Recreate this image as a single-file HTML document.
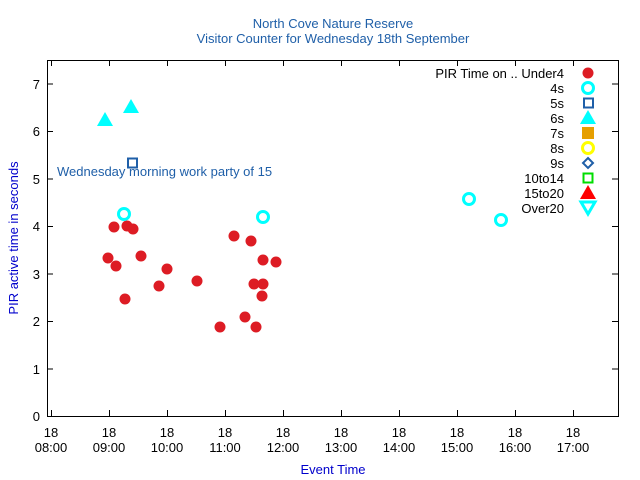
<!DOCTYPE html>
<html><head><meta charset="utf-8"><style>body{margin:0;background:#fff}svg{display:block}text{font-family:"Liberation Sans",sans-serif}</style></head><body>
<svg width="640" height="480" viewBox="0 0 640 480">
<rect width="640" height="480" fill="#fff"/>
<text x="333" y="28" font-size="13" fill="#1f5fa8" text-anchor="middle">North Cove Nature Reserve</text>
<text x="333" y="43" font-size="13" fill="#1f5fa8" text-anchor="middle">Visitor Counter for Wednesday 18th September</text>
<rect x="47.5" y="60.5" width="571" height="356" fill="none" stroke="#000" stroke-width="1"/>
<g stroke="#000" stroke-width="1">
<path d="M47 416.5h6M47 369h6M47 321.5h6M47 274h6M47 226.5h6M47 179h6M47 131.5h6M47 84h6"/>
<path d="M618 369h-6M618 321.5h-6M618 274h-6M618 226.5h-6M618 179h-6M618 131.5h-6M618 84h-6"/>
<path d="M51.5 416v-6M109.5 416v-6M167.5 416v-6M225.5 416v-6M283.5 416v-6M341.5 416v-6M399.5 416v-6M457.5 416v-6M515.5 416v-6M573.5 416v-6"/>
<path d="M51.5 60v6M109.5 60v6M167.5 60v6M225.5 60v6M283.5 60v6M341.5 60v6M399.5 60v6M457.5 60v6M515.5 60v6M573.5 60v6"/>
</g>
<g font-size="13" fill="#000" text-anchor="end">
<text x="40" y="421">0</text><text x="40" y="374">1</text><text x="40" y="326">2</text><text x="40" y="279">3</text><text x="40" y="231">4</text><text x="40" y="184">5</text><text x="40" y="136">6</text><text x="40" y="89">7</text>
</g>
<g font-size="13" fill="#000" text-anchor="middle">
<text x="51" y="437">18</text><text x="51" y="452">08:00</text>
<text x="109" y="437">18</text><text x="109" y="452">09:00</text>
<text x="167" y="437">18</text><text x="167" y="452">10:00</text>
<text x="225" y="437">18</text><text x="225" y="452">11:00</text>
<text x="283" y="437">18</text><text x="283" y="452">12:00</text>
<text x="341" y="437">18</text><text x="341" y="452">13:00</text>
<text x="399" y="437">18</text><text x="399" y="452">14:00</text>
<text x="457" y="437">18</text><text x="457" y="452">15:00</text>
<text x="515" y="437">18</text><text x="515" y="452">16:00</text>
<text x="573" y="437">18</text><text x="573" y="452">17:00</text>
</g>
<text x="333" y="474" font-size="13" fill="#0000cc" text-anchor="middle">Event Time</text>
<text transform="translate(18 238) rotate(-90)" font-size="13" fill="#0000cc" text-anchor="middle">PIR active time in seconds</text>
<text x="57" y="176" font-size="13" fill="#1f5fa8">Wednesday morning work party of 15</text>
<g fill="#dd1c24">
<circle cx="114" cy="227" r="5.5"/><circle cx="127" cy="226" r="5.5"/><circle cx="133" cy="229" r="5.5"/><circle cx="108" cy="258" r="5.5"/><circle cx="116" cy="266" r="5.5"/><circle cx="141" cy="256" r="5.5"/><circle cx="167" cy="269" r="5.5"/><circle cx="159" cy="286" r="5.5"/><circle cx="125" cy="299" r="5.5"/><circle cx="197" cy="281" r="5.5"/>
<circle cx="234" cy="236" r="5.5"/><circle cx="251" cy="241" r="5.5"/><circle cx="263" cy="260" r="5.5"/><circle cx="276" cy="262" r="5.5"/><circle cx="254" cy="284" r="5.5"/><circle cx="263" cy="284" r="5.5"/><circle cx="262" cy="296" r="5.5"/><circle cx="245" cy="317" r="5.5"/><circle cx="220" cy="327" r="5.5"/><circle cx="256" cy="327" r="5.5"/>
<circle cx="588" cy="73" r="5.5"/>
</g>
<g fill="none" stroke="#00ffff" stroke-width="3">
<circle cx="124" cy="214" r="5.5"/><circle cx="263" cy="217" r="5.5"/><circle cx="469" cy="199" r="5.5"/><circle cx="501" cy="220" r="5.5"/><circle cx="588" cy="88" r="5.5"/>
</g>
<rect x="128" y="158.5" width="9" height="9" fill="none" stroke="#1f5fa8" stroke-width="2"/>
<rect x="584" y="98.5" width="9" height="9" fill="none" stroke="#1f5fa8" stroke-width="2"/>
<g fill="#00ffff">
<path d="M105 112l8 14h-16z"/><path d="M131 99l8 14h-16z"/><path d="M588 110l8 14h-16z"/>
</g>
<rect x="582" y="127" width="12" height="12" fill="#e69f00"/>
<circle cx="588" cy="148" r="5.5" fill="none" stroke="#ffff00" stroke-width="3"/>
<path d="M588 158l5 5-5 5-5-5z" fill="none" stroke="#1f5fa8" stroke-width="2"/>
<rect x="583.5" y="173.5" width="9" height="9" fill="none" stroke="#00dd00" stroke-width="2"/>
<path d="M588 185l8 14h-16z" fill="#ff0000"/>
<path d="M581 202h14l-7 12z" fill="none" stroke="#00ffff" stroke-width="3"/>
<g font-size="13" fill="#000" text-anchor="end">
<text x="564" y="78">PIR Time on .. Under4</text><text x="564" y="93">4s</text><text x="564" y="108">5s</text><text x="564" y="123">6s</text><text x="564" y="138">7s</text><text x="564" y="153">8s</text><text x="564" y="168">9s</text><text x="564" y="183">10to14</text><text x="564" y="198">15to20</text><text x="564" y="213">Over20</text>
</g>
</svg>
</body></html>
